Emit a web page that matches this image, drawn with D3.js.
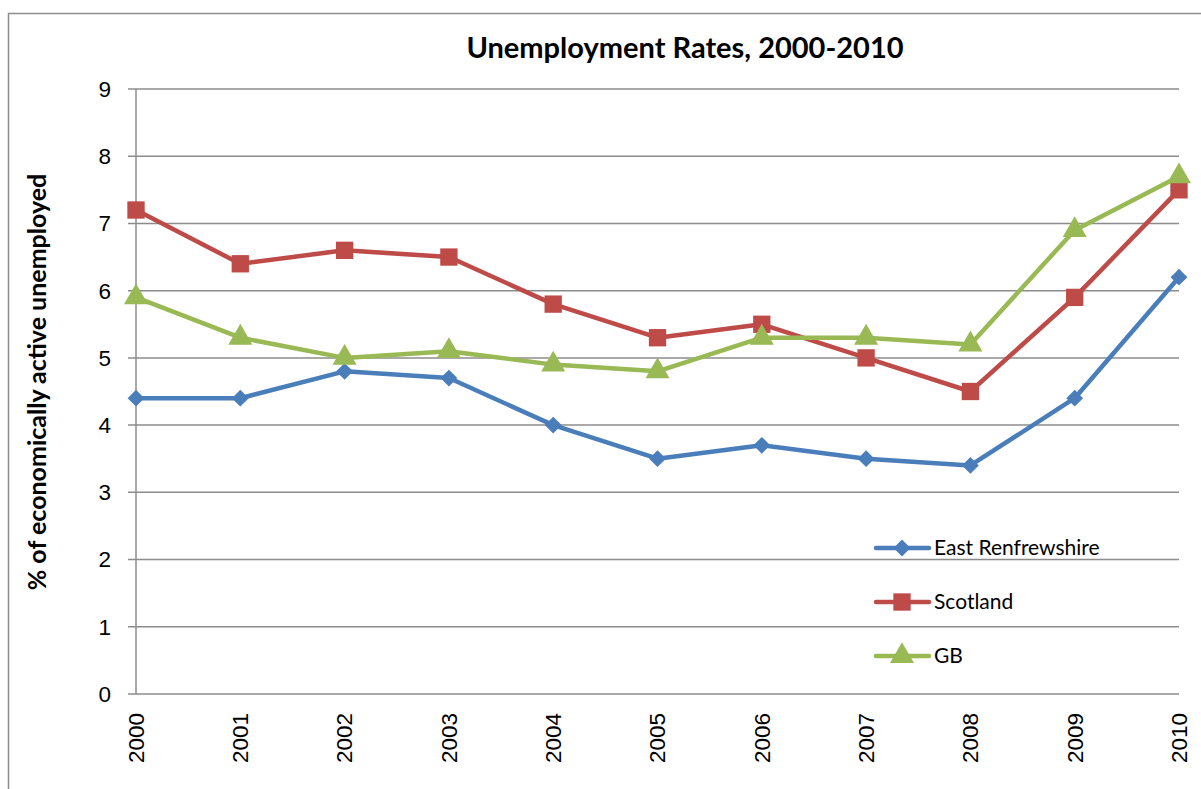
<!DOCTYPE html>
<html><head><meta charset="utf-8">
<script src="https://cdn.jsdelivr.net/npm/d3@7"></script>
<style>body{margin:0;background:#fff;}svg{display:block;}</style>
</head><body>
<svg id="c" width="1201" height="789"></svg>
<script>
const years = ["2000","2001","2002","2003","2004","2005","2006","2007","2008","2009","2010"];
const eastRenfrewshire = [4.4,4.4,4.8,4.7,4.0,3.5,3.7,3.5,3.4,4.4,6.2];
const scotland = [7.2,6.4,6.6,6.5,5.8,5.3,5.5,5.0,4.5,5.9,7.5];
const gb = [5.9,5.3,5.0,5.1,4.9,4.8,5.3,5.3,5.2,6.9,7.7];
const yTicks = [0,1,2,3,4,5,6,7,8,9];
const seriesNames = ["East Renfrewshire","Scotland","GB"];

const series = [
  {name:seriesNames[0], values:eastRenfrewshire, color:"#4A7EBB", marker:d3.symbolDiamond2, size:180},
  {name:seriesNames[1], values:scotland, color:"#BE4B48", marker:d3.symbolSquare, size:300},
  {name:seriesNames[2], values:gb, color:"#98B954", marker:d3.symbolTriangle, size:250}
];

const svg = d3.select("#c");
const gray = "#8c8c8c";
svg.append("rect").attr("x",8.5).attr("y",13.5).attr("width",1200).attr("height",800)
  .attr("fill","none").attr("stroke",gray).attr("stroke-width",1.5);

const x = d3.scalePoint().domain(years).range([136,1179]);
const y = d3.scaleLinear().domain([0,9]).range([694,89]);

svg.append("g").selectAll("line").data(yTicks).join("line")
  .attr("x1",128).attr("x2",1179).attr("y1",d=>y(d)).attr("y2",d=>y(d))
  .attr("stroke",gray).attr("stroke-width",1.5);
svg.append("line").attr("x1",136).attr("x2",136).attr("y1",89).attr("y2",694)
  .attr("stroke",gray).attr("stroke-width",1.5);

const tickFont = "'Liberation Sans', Arial, sans-serif";
svg.append("g").selectAll("text").data(yTicks).join("text")
  .attr("x",111).attr("y",d=>y(d)).attr("dy","0.35em").attr("text-anchor","end")
  .attr("font-family",tickFont).attr("font-size",22.5).attr("fill","#000").text(d=>d);

svg.append("g").selectAll("text").data(years).join("text")
  .attr("transform",d=>`translate(${x(d)},713) rotate(-90)`)
  .attr("dy","0.35em").attr("text-anchor","end")
  .attr("font-family",tickFont).attr("font-size",22.5).attr("fill","#000").text(d=>d);

svg.append("text").attr("x",685).attr("y",58).attr("text-anchor","middle")
  .attr("font-family","Lato, 'Open Sans', sans-serif").attr("font-weight","bold").attr("font-size",29)
  .text("Unemployment Rates, 2000-2010");
svg.append("text").attr("transform","translate(46,382) rotate(-90)").attr("text-anchor","middle")
  .attr("font-family","Lato, 'Open Sans', sans-serif").attr("font-weight","bold").attr("font-size",25)
  .text("% of economically active unemployed");

const line = d3.line().x((d,i)=>x(years[i])).y(d=>y(d));
series.forEach(s=>{
  const g = svg.append("g");
  g.append("path").datum(s.values).attr("d",line).attr("fill","none")
    .attr("stroke",s.color).attr("stroke-width",4.5).attr("stroke-linejoin","round").attr("stroke-linecap","round");
  g.selectAll("path.m").data(s.values).join("path").attr("class","m")
    .attr("transform",(d,i)=>`translate(${x(years[i])},${y(d)})`)
    .attr("d",d3.symbol().type(s.marker).size(s.size)).attr("fill",s.color);
});

const lg = svg.append("g");
series.forEach((s,i)=>{
  const ly = 548 + i*54;
  lg.append("line").attr("x1",876).attr("x2",929).attr("y1",ly).attr("y2",ly)
    .attr("stroke",s.color).attr("stroke-width",4.5).attr("stroke-linecap","round");
  lg.append("path").attr("transform",`translate(902,${ly})`)
    .attr("d",d3.symbol().type(s.marker).size(s.size)).attr("fill",s.color);
  lg.append("text").attr("x",934).attr("y",ly).attr("dy","0.35em")
    .attr("font-family","Lato, 'Open Sans', sans-serif").attr("font-size",21).text(s.name);
});
</script>
</body></html>
